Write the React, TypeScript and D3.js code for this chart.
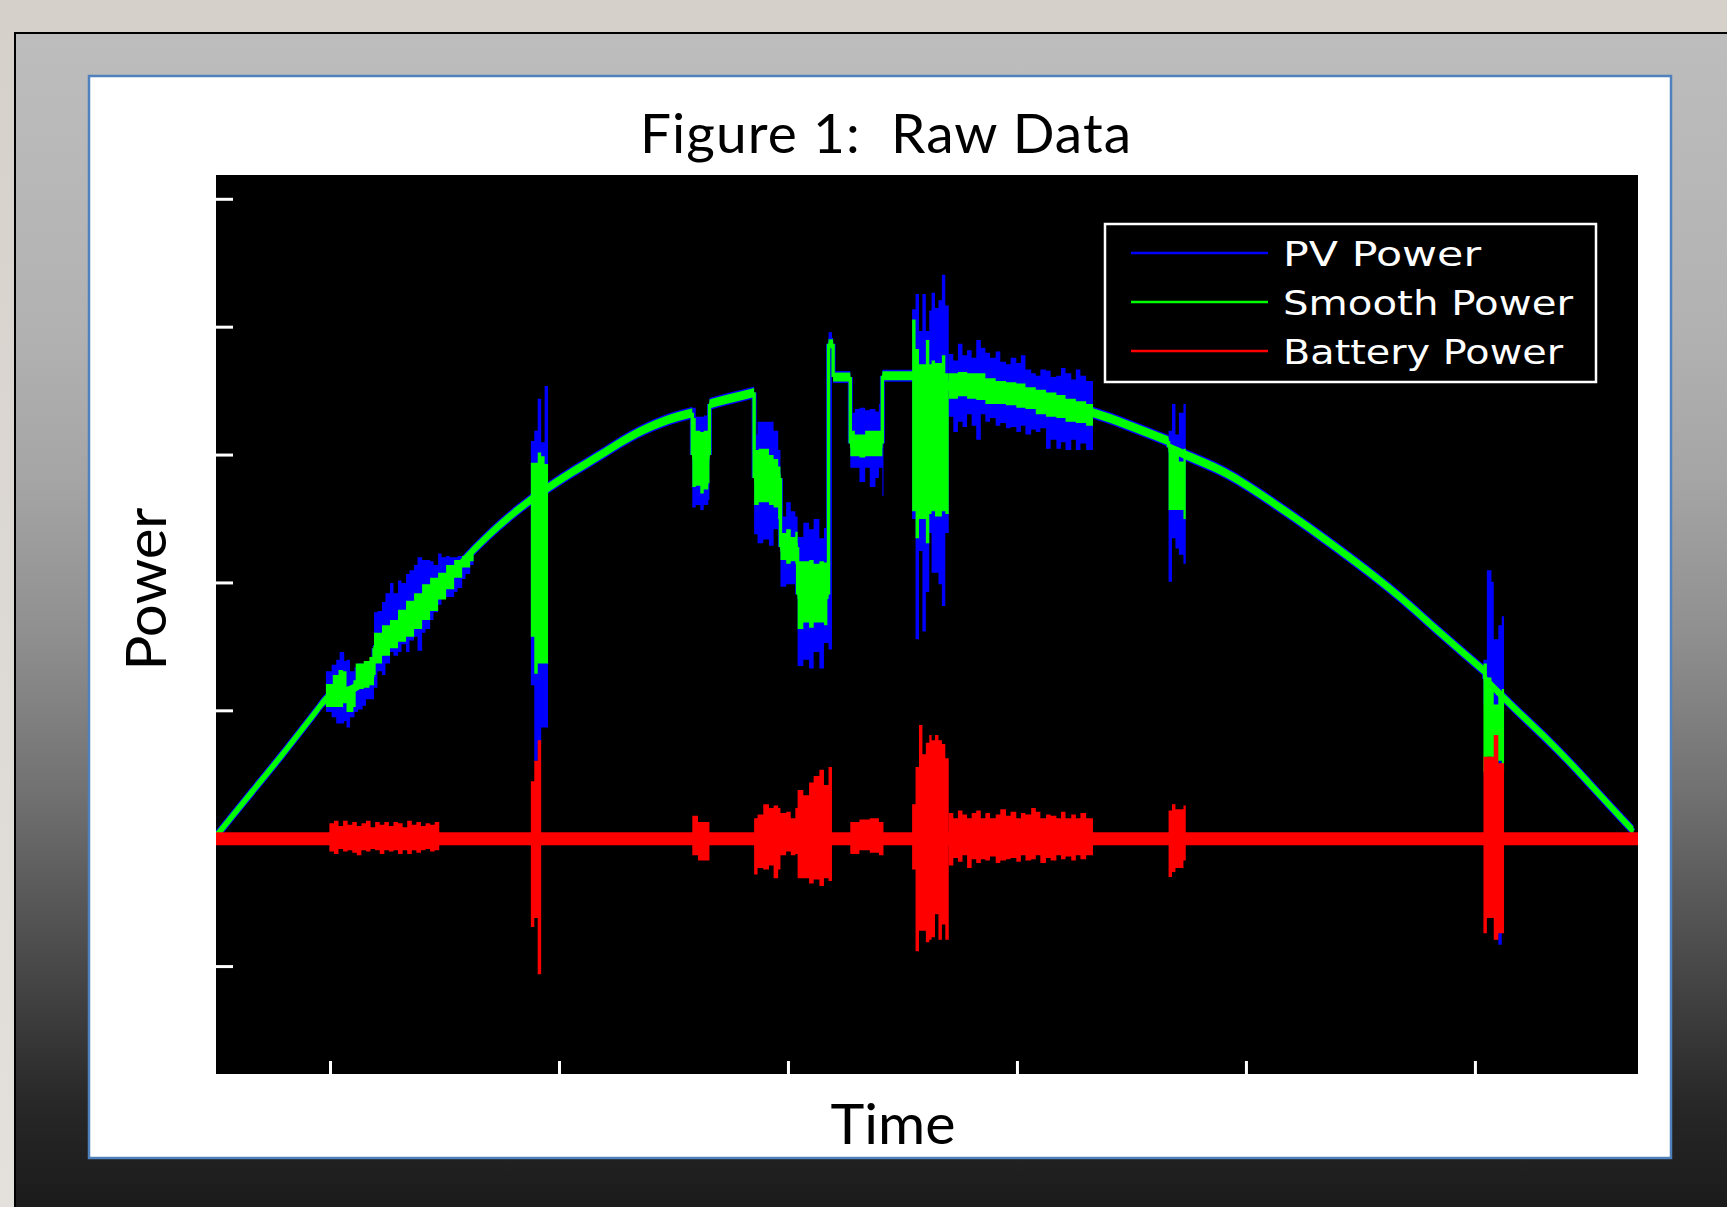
import React, { useEffect, useRef } from "react";
import * as d3 from "d3";

// time in hours, power in kW (no tick labels on the original)
const timeDomain = [7, 19.42];
const powerDomain = [-1.84, 5.19];
const timeTicks = [8, 10, 12, 14, 16, 18];
const powerTicks = [-1, 0, 1, 2, 3, 4, 5];

const seriesNames = ["PV Power", "Smooth Power", "Battery Power"];
const seriesColors = ["#0000ff", "#00ff00", "#ff0000"];

// smoothed power, [hour, kW]; repeated hours are the hard steps
const smoothPower = [
  [7.0, 0.02], [7.29, 0.34], [7.59, 0.67], [7.87, 0.99], [7.96, 1.09], [8.19, 1.17],
  [8.38, 1.28], [8.38, 1.49], [8.75, 1.82], [9.01, 2.03], [9.24, 2.25], [9.62, 2.56],
  [9.75, 2.65], [9.91, 2.75], [10.32, 2.98], [10.61, 3.14], [10.9, 3.26], [11.16, 3.33],
  [11.16, 3.0], [11.31, 3.0], [11.31, 3.4], [11.48, 3.44], [11.7, 3.49], [11.7, 2.82],
  [11.93, 2.82], [11.93, 2.28], [12.08, 2.28], [12.08, 1.91], [12.35, 1.91], [12.35, 3.87],
  [12.39, 3.87], [12.39, 3.61], [12.54, 3.61], [12.54, 3.09], [12.82, 3.09], [12.82, 3.62],
  [13.08, 3.62], [13.4, 3.54], [13.64, 3.53], [14.14, 3.44], [14.66, 3.33], [14.98, 3.23],
  [15.32, 3.11], [15.32, 3.06], [15.47, 3.0], [15.82, 2.86], [16.26, 2.61], [16.55, 2.43],
  [16.96, 2.16], [17.34, 1.89], [17.63, 1.66], [18.08, 1.31], [18.08, 1.25], [18.25, 1.1],
  [18.8, 0.62], [19.09, 0.34], [19.38, 0.06],
];

// battery power rests on zero between the bursts
const batteryBase = [[7.0, 0], [19.42, 0]];

// noisy stretches, [hour, low kW, high kW]; last row closes the stretch
const pvBursts = [
  [
    [7.96, 0.99, 1.31], [8.01, 0.95, 1.36], [8.05, 0.9, 1.4], [8.08, 0.9, 1.46], [8.12, 0.92, 1.39],
    [8.14, 0.87, 1.4], [8.17, 0.95, 1.31], [8.21, 0.99, 1.34], [8.24, 1.01, 1.37], [8.28, 1.04, 1.35],
    [8.31, 1.09, 1.37], [8.34, 1.09, 1.39], [8.38, 1.18, 1.77], [8.41, 1.31, 1.78], [8.45, 1.28, 1.85],
    [8.48, 1.37, 1.92], [8.52, 1.46, 2.0], [8.55, 1.43, 1.92], [8.59, 1.46, 2.02], [8.62, 1.52, 2.0],
    [8.66, 1.46, 2.07], [8.69, 1.55, 2.1], [8.73, 1.58, 2.14], [8.76, 1.47, 2.2], [8.8, 1.61, 2.18],
    [8.83, 1.64, 2.18], [8.87, 1.71, 2.17], [8.9, 1.77, 2.14], [8.94, 1.83, 2.23], [8.97, 1.89, 2.2],
    [9.01, 1.89, 2.21], [9.04, 1.89, 2.2], [9.08, 1.93, 2.2], [9.11, 1.96, 2.21], [9.15, 2.03, 2.21],
    [9.18, 2.07, 2.23], [9.22, 2.14, 2.25], [9.25, 2.14, 2.25],
  ],
  [[9.75, 1.2, 3.11], [9.78, 0.61, 3.19], [9.81, 0.74, 3.44], [9.84, 0.87, 3.1], [9.87, 0.87, 3.54], [9.9, 0.87, 3.54]],
  [[11.16, 2.59, 3.37], [11.19, 2.61, 3.3], [11.23, 2.57, 3.3], [11.26, 2.61, 3.31], [11.3, 2.65, 3.32], [11.31, 2.65, 3.32]],
  [
    [11.7, 2.38, 3.16], [11.73, 2.31, 3.26], [11.78, 2.34, 3.26], [11.83, 2.29, 3.26], [11.87, 2.42, 3.19],
    [11.91, 2.36, 3.04], [11.93, 1.97, 2.52], [11.98, 1.99, 2.63], [12.02, 1.99, 2.56], [12.06, 2.18, 2.52],
    [12.08, 1.35, 2.36], [12.13, 1.4, 2.47], [12.18, 1.33, 2.42], [12.22, 1.46, 2.5], [12.27, 1.33, 2.35],
    [12.31, 1.53, 2.43], [12.35, 1.48, 3.96], [12.38, 1.48, 3.96],
  ],
  [
    [12.54, 2.9, 3.33], [12.58, 2.9, 3.36], [12.62, 2.79, 3.37], [12.67, 2.9, 3.35], [12.71, 2.75, 3.36],
    [12.76, 2.82, 3.34], [12.79, 2.9, 3.4], [12.82, 2.68, 3.4], [12.83, 2.68, 3.4],
  ],
  [
    [13.08, 2.5, 4.14], [13.11, 1.56, 4.26], [13.14, 2.25, 3.97], [13.17, 1.62, 4.26], [13.2, 1.93, 3.97],
    [13.23, 2.39, 4.13], [13.25, 2.08, 4.27], [13.28, 2.08, 4.15], [13.31, 1.99, 4.21], [13.34, 1.82, 4.41],
    [13.37, 2.39, 4.17], [13.4, 2.39, 4.17],
  ],
  [
    [13.4, 3.3, 3.79], [13.44, 3.18, 3.74], [13.48, 3.26, 3.87], [13.52, 3.22, 3.78], [13.56, 3.32, 3.82],
    [13.6, 3.23, 3.76], [13.64, 3.12, 3.9], [13.68, 3.32, 3.84], [13.72, 3.26, 3.8], [13.76, 3.29, 3.76],
    [13.81, 3.23, 3.81], [13.85, 3.25, 3.73], [13.9, 3.21, 3.71], [13.94, 3.22, 3.76], [13.99, 3.18, 3.72],
    [14.03, 3.23, 3.78], [14.07, 3.16, 3.67], [14.12, 3.2, 3.64], [14.16, 3.18, 3.62], [14.2, 3.21, 3.67],
    [14.25, 3.05, 3.66], [14.29, 3.12, 3.61], [14.34, 3.05, 3.62], [14.38, 3.1, 3.68], [14.42, 3.04, 3.64],
    [14.47, 3.12, 3.59], [14.51, 3.04, 3.67], [14.55, 3.09, 3.62], [14.6, 3.04, 3.58], [14.66, 3.04, 3.58],
  ],
  [[15.32, 2.01, 3.19], [15.35, 2.35, 3.4], [15.38, 2.27, 3.16], [15.41, 2.22, 3.33], [15.45, 2.15, 3.4], [15.47, 2.15, 3.4]],
  [[18.07, 1.05, 1.4], [18.1, 0.88, 2.1], [18.14, 0.93, 2.01], [18.16, 0.74, 1.56], [18.2, -0.83, 1.67], [18.23, 0.62, 1.74], [18.25, 0.62, 1.74]],
];

const smoothBursts = [
  [
    [7.96, 1.03, 1.21], [8.02, 1.03, 1.28], [8.07, 1.03, 1.32], [8.11, 1.06, 1.31], [8.14, 0.99, 1.18],
    [8.2, 1.03, 1.24], [8.22, 1.17, 1.37], [8.29, 1.18, 1.39], [8.34, 1.2, 1.42], [8.38, 1.37, 1.61],
    [8.45, 1.43, 1.67], [8.52, 1.49, 1.71], [8.59, 1.54, 1.79], [8.66, 1.58, 1.86], [8.73, 1.64, 1.92],
    [8.8, 1.71, 1.99], [8.87, 1.78, 2.04], [8.94, 1.87, 2.08], [9.01, 1.95, 2.14], [9.08, 2.04, 2.18],
    [9.15, 2.12, 2.21], [9.22, 2.17, 2.26], [9.25, 2.17, 2.26],
  ],
  [[9.75, 1.58, 2.94], [9.78, 1.29, 2.94], [9.81, 1.37, 3.02], [9.84, 1.37, 2.99], [9.87, 1.37, 2.93], [9.9, 1.37, 2.93]],
  [[11.16, 2.75, 3.29], [11.19, 2.76, 3.19], [11.23, 2.7, 3.18], [11.26, 2.73, 3.19], [11.3, 2.78, 3.26], [11.31, 2.78, 3.26]],
  [
    [11.7, 2.61, 3.04], [11.74, 2.63, 3.05], [11.78, 2.63, 3.05], [11.83, 2.61, 3.0], [11.87, 2.59, 2.97],
    [11.91, 2.5, 2.91], [11.93, 2.18, 2.39], [11.98, 2.15, 2.42], [12.02, 2.17, 2.36], [12.06, 2.15, 2.4],
    [12.08, 1.64, 2.17], [12.13, 1.69, 2.17], [12.18, 1.65, 2.18], [12.22, 1.69, 2.15], [12.27, 1.69, 2.17],
    [12.31, 1.67, 2.16], [12.34, 1.67, 2.16],
  ],
  [
    [12.54, 2.99, 3.19], [12.58, 2.99, 3.16], [12.62, 2.98, 3.16], [12.67, 2.99, 3.19], [12.71, 2.99, 3.19],
    [12.76, 2.99, 3.19], [12.79, 2.99, 3.19], [12.82, 2.99, 3.19],
  ],
  [
    [13.08, 2.56, 4.06], [13.11, 2.35, 3.83], [13.14, 2.5, 3.71], [13.17, 2.5, 3.71], [13.2, 2.31, 3.9],
    [13.23, 2.54, 3.71], [13.25, 2.56, 3.74], [13.28, 2.52, 3.72], [13.31, 2.52, 3.72], [13.34, 2.56, 3.78],
    [13.37, 2.54, 3.64], [13.4, 2.54, 3.64],
  ],
  [
    [13.4, 3.44, 3.64], [13.48, 3.46, 3.65], [13.56, 3.44, 3.64], [13.64, 3.43, 3.64], [13.72, 3.4, 3.6],
    [13.81, 3.4, 3.58], [13.9, 3.39, 3.57], [13.99, 3.37, 3.56], [14.07, 3.36, 3.53], [14.16, 3.32, 3.51],
    [14.25, 3.3, 3.49], [14.34, 3.29, 3.47], [14.42, 3.26, 3.44], [14.51, 3.25, 3.42], [14.6, 3.23, 3.4],
    [14.66, 3.23, 3.4],
  ],
  [[15.32, 2.57, 3.05], [15.38, 2.57, 3.0], [15.41, 2.57, 2.95], [15.45, 2.5, 3.05], [15.47, 2.5, 3.05]],
  [[18.07, 0.52, 1.37], [18.1, 0.64, 1.26], [18.14, 0.62, 1.17], [18.16, 0.59, 1.05], [18.2, 0.61, 1.12], [18.23, 0.52, 1.17], [18.25, 0.52, 1.17]],
];

const batteryBursts = [
  [
    [7.99, -0.1, 0.12], [8.03, -0.12, 0.14], [8.07, -0.08, 0.1], [8.11, -0.1, 0.14], [8.15, -0.09, 0.11],
    [8.19, -0.11, 0.13], [8.23, -0.13, 0.1], [8.27, -0.09, 0.12], [8.31, -0.1, 0.14], [8.35, -0.08, 0.09],
    [8.39, -0.09, 0.13], [8.43, -0.12, 0.11], [8.47, -0.09, 0.13], [8.51, -0.1, 0.1], [8.55, -0.09, 0.13],
    [8.59, -0.12, 0.12], [8.63, -0.09, 0.09], [8.67, -0.12, 0.14], [8.71, -0.09, 0.11], [8.75, -0.11, 0.13],
    [8.79, -0.09, 0.1], [8.83, -0.08, 0.12], [8.87, -0.1, 0.11], [8.91, -0.09, 0.13], [8.95, -0.09, 0.13],
  ],
  [[9.75, -0.69, 0.45], [9.78, -0.62, 0.61], [9.81, -1.06, 0.77], [9.84, -1.06, 0.77]],
  [[11.16, -0.13, 0.18], [11.21, -0.17, 0.13], [11.31, -0.17, 0.13]],
  [
    [11.7, -0.28, 0.16], [11.73, -0.23, 0.19], [11.78, -0.24, 0.27], [11.83, -0.21, 0.24], [11.87, -0.31, 0.26],
    [11.91, -0.24, 0.24], [11.93, -0.13, 0.2], [11.98, -0.1, 0.21], [12.02, -0.13, 0.16], [12.06, -0.12, 0.24],
    [12.08, -0.31, 0.38], [12.13, -0.31, 0.34], [12.18, -0.35, 0.44], [12.22, -0.32, 0.49], [12.27, -0.37, 0.54],
    [12.31, -0.31, 0.42], [12.35, -0.33, 0.56], [12.38, -0.33, 0.56],
  ],
  [[12.54, -0.12, 0.13], [12.62, -0.09, 0.15], [12.71, -0.11, 0.16], [12.79, -0.13, 0.13], [12.83, -0.13, 0.13]],
  [
    [13.08, -0.24, 0.27], [13.11, -0.88, 0.56], [13.14, -0.72, 0.89], [13.17, -0.72, 0.66], [13.2, -0.81, 0.75],
    [13.23, -0.79, 0.81], [13.25, -0.77, 0.77], [13.28, -0.59, 0.81], [13.31, -0.79, 0.77], [13.34, -0.67, 0.74],
    [13.37, -0.79, 0.63], [13.4, -0.79, 0.63],
  ],
  [
    [13.4, -0.21, 0.2], [13.44, -0.15, 0.16], [13.48, -0.18, 0.22], [13.52, -0.13, 0.19], [13.56, -0.23, 0.16],
    [13.6, -0.16, 0.2], [13.64, -0.19, 0.22], [13.68, -0.16, 0.16], [13.72, -0.17, 0.2], [13.76, -0.14, 0.16],
    [13.81, -0.19, 0.19], [13.85, -0.17, 0.23], [13.9, -0.16, 0.18], [13.94, -0.15, 0.21], [13.99, -0.18, 0.16],
    [14.03, -0.13, 0.2], [14.07, -0.17, 0.19], [14.12, -0.16, 0.24], [14.16, -0.13, 0.21], [14.2, -0.19, 0.16],
    [14.25, -0.15, 0.19], [14.29, -0.17, 0.18], [14.34, -0.13, 0.16], [14.38, -0.16, 0.21], [14.42, -0.14, 0.16],
    [14.47, -0.17, 0.19], [14.51, -0.13, 0.16], [14.55, -0.16, 0.2], [14.6, -0.13, 0.16], [14.66, -0.13, 0.16],
  ],
  [[15.32, -0.3, 0.22], [15.35, -0.26, 0.27], [15.38, -0.23, 0.23], [15.45, -0.17, 0.26], [15.47, -0.17, 0.26]],
  [[18.07, -0.74, 0.64], [18.1, -0.62, 0.64], [18.16, -0.79, 0.81], [18.2, -0.74, 0.59], [18.25, -0.74, 0.59]],
];

const W = 1727;
const H = 1207;
const plot = { left: 216, top: 175, right: 1638, bottom: 1074 };

// split a trace at its hard steps (same hour twice)
const runs = (data: number[][]) => {
  const out: number[][][] = [[data[0]]];
  for (let i = 1; i < data.length; i++) {
    if (data[i][0] === data[i - 1][0]) out.push([data[i]]);
    else out[out.length - 1].push(data[i]);
  }
  return out;
};
const steps = (data: number[][]) =>
  data.slice(1).map((d, i) => [data[i], d]).filter(([a, b]) => a[0] === b[0]);

const drawChart = (node: SVGSVGElement) => {
  const svg = d3.select(node);
  svg.selectAll("*").remove();

  const x = d3.scaleLinear().domain(timeDomain).range([plot.left, plot.right]);
  const y = d3.scaleLinear().domain(powerDomain).range([plot.bottom, plot.top]);

  const defs = svg.append("defs");
  const frameGrad = defs.append("linearGradient").attr("id", "frameGrad")
      .attr("x1", 0).attr("y1", 0).attr("x2", 0).attr("y2", 1);
  [[0, "#bdbdbd"], [0.24, "#b2b2b2"], [0.37, "#a5a5a5"], [0.5, "#8f8f8f"],
   [0.63, "#717171"], [0.76, "#4c4c4c"], [0.89, "#272727"], [1, "#171717"]]
    .forEach(([o, c]) => frameGrad.append("stop").attr("offset", o).attr("stop-color", c));
  const pageGrad = defs.append("linearGradient").attr("id", "pageGrad")
      .attr("x1", 0).attr("y1", 0).attr("x2", 0).attr("y2", 1);
  pageGrad.append("stop").attr("offset", 0).attr("stop-color", "#d5d0ca");
  pageGrad.append("stop").attr("offset", 1).attr("stop-color", "#e4e1dd");
  defs.append("clipPath").attr("id", "plotClip").append("rect")
      .attr("x", plot.left).attr("y", plot.top)
      .attr("width", plot.right - plot.left).attr("height", plot.bottom - plot.top);

  // backdrop, slide frame and white panel
  svg.append("rect").attr("width", W).attr("height", H).attr("fill", "url(#pageGrad)");
  svg.append("rect").attr("x", 15).attr("y", 33).attr("width", W).attr("height", H)
      .attr("fill", "url(#frameGrad)").attr("stroke", "#000").attr("stroke-width", 2);
  svg.append("rect").attr("x", 89).attr("y", 76).attr("width", 1582).attr("height", 1082)
      .attr("fill", "#fff").attr("stroke", "#4f81bd").attr("stroke-width", 2.5);
  svg.append("rect").attr("x", plot.left).attr("y", plot.top)
      .attr("width", plot.right - plot.left).attr("height", plot.bottom - plot.top).attr("fill", "#000");

  // ticks (no labels)
  svg.append("g").selectAll("line").data(powerTicks).join("line")
      .attr("x1", plot.left).attr("x2", plot.left + 17)
      .attr("y1", d => y(d)).attr("y2", d => y(d))
      .attr("stroke", "#fff").attr("stroke-width", 3);
  svg.append("g").selectAll("line").data(timeTicks).join("line")
      .attr("x1", d => x(d)).attr("x2", d => x(d))
      .attr("y1", plot.bottom).attr("y2", plot.bottom - 13)
      .attr("stroke", "#fff").attr("stroke-width", 3);

  const band = (half: number) => d3.area<number[]>()
      .x(d => x(d[0])).y0(d => y(d[1]) + half).y1(d => y(d[1]) - half)
      .curve(d3.curveMonotoneX);
  const smoothLine = d3.line<number[]>().x(d => x(d[0])).y(d => y(d[1])).curve(d3.curveMonotoneX);
  const trace = d3.line<number[]>().x(d => x(d[0])).y(d => y(d[1]));
  const burst = d3.area<number[]>()
      .x(d => x(d[0])).y0(d => y(d[1])).y1(d => y(d[2])).curve(d3.curveStepAfter);

  const smoothRuns = runs(smoothPower);
  const smoothSteps = steps(smoothPower);

  const g = svg.append("g").attr("clip-path", "url(#plotClip)");

  const drawTrace = (color: string, half: number, width: number) => {
    const t = g.append("g");
    t.selectAll("path.band").data(smoothRuns).join("path").attr("class", "band")
        .attr("d", d => band(half)(d)).attr("fill", color);
    t.selectAll("path.run").data(smoothRuns).join("path").attr("class", "run")
        .attr("d", d => smoothLine(d)).attr("fill", "none")
        .attr("stroke", color).attr("stroke-width", width);
    t.selectAll("path.step").data(smoothSteps).join("path").attr("class", "step")
        .attr("d", d => trace(d)).attr("fill", "none")
        .attr("stroke", color).attr("stroke-width", width);
  };

  // PV
  drawTrace(seriesColors[0], 6, 5);
  g.append("g").selectAll("path").data(pvBursts).join("path")
      .attr("d", d => burst(d)).attr("fill", seriesColors[0]);

  // Smooth
  drawTrace(seriesColors[1], 4.5, 3.4);
  g.append("g").selectAll("path").data(smoothBursts).join("path")
      .attr("d", d => burst(d)).attr("fill", seriesColors[1]);

  // Battery
  g.append("path").attr("d", trace(batteryBase)).attr("fill", "none")
      .attr("stroke", seriesColors[2]).attr("stroke-width", 13);
  g.append("g").selectAll("path").data(batteryBursts).join("path")
      .attr("d", d => burst(d)).attr("fill", seriesColors[2]);

  // legend
  const legend = svg.append("g");
  legend.append("rect").attr("x", 1105).attr("y", 224).attr("width", 491).attr("height", 158)
      .attr("fill", "#000").attr("stroke", "#fff").attr("stroke-width", 2.5);
  const widths = [198, 290, 280];
  seriesNames.forEach((name, i) => {
    const cy = 253 + i * 49;
    legend.append("line").attr("x1", 1131).attr("x2", 1268).attr("y1", cy).attr("y2", cy)
        .attr("stroke", seriesColors[i]).attr("stroke-width", 2.5);
    legend.append("text").attr("x", 1283).attr("y", cy + 13)
        .attr("font-family", "'DejaVu Sans', Verdana, sans-serif").attr("font-size", 34)
        .attr("fill", "#fff").attr("textLength", widths[i]).attr("lengthAdjust", "spacingAndGlyphs")
        .text(name);
  });

  // titles
  const font = "Lato, 'Open Sans', sans-serif";
  svg.append("text").attr("x", 640).attr("y", 153)
      .attr("font-family", font).attr("font-size", 55).attr("fill", "#000")
      .attr("textLength", 491).attr("lengthAdjust", "spacing")
      .style("white-space", "pre").text("Figure 1:  Raw Data");
  svg.append("text").attr("transform", "translate(166,589) rotate(-90)")
      .attr("text-anchor", "middle").attr("font-family", font).attr("font-size", 56)
      .attr("textLength", 163).attr("lengthAdjust", "spacingAndGlyphs")
      .attr("fill", "#000").text("Power");
  svg.append("text").attr("x", 893).attr("y", 1144).attr("text-anchor", "middle")
      .attr("font-family", font).attr("font-size", 56)
      .attr("textLength", 125).attr("lengthAdjust", "spacingAndGlyphs")
      .attr("fill", "#000").text("Time");
};

const App = () => {
  const ref = useRef<SVGSVGElement>(null);
  useEffect(() => {
    if (ref.current) drawChart(ref.current);
  }, []);

  return (
    <svg ref={ref} width={W} height={H}
         style={{ position: "absolute", left: 0, top: 0, display: "block" }} />
  );
};

export default App;
